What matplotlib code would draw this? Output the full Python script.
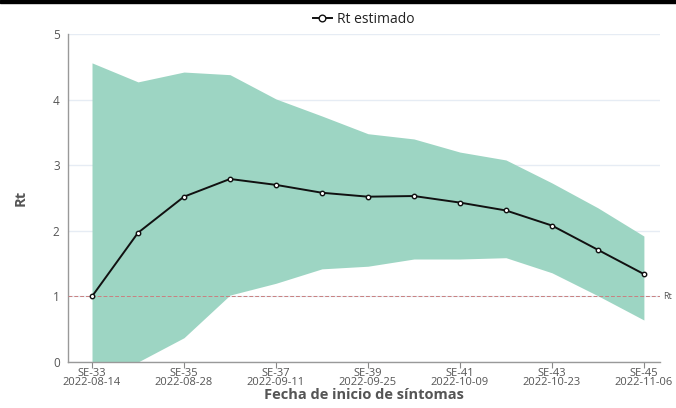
import matplotlib
matplotlib.use("Agg")
import matplotlib.pyplot as plt
from matplotlib.patches import Rectangle

weeks = [33, 34, 35, 36, 37, 38, 39, 40, 41, 42, 43, 44, 45]
rt = [1.00, 1.97, 2.52, 2.79, 2.70, 2.58, 2.52, 2.53, 2.43, 2.31, 2.08, 1.71, 1.34]
upper = [4.56, 4.27, 4.42, 4.38, 4.01, 3.75, 3.48, 3.40, 3.20, 3.08, 2.73, 2.35, 1.92]
lower = [0.00, 0.00, 0.37, 1.02, 1.20, 1.42, 1.46, 1.57, 1.57, 1.59, 1.36, 1.01, 0.64]
tick_weeks = [33, 35, 37, 39, 41, 43, 45]
tick_labels = ["SE-33\n2022-08-14", "SE-35\n2022-08-28", "SE-37\n2022-09-11",
               "SE-39\n2022-09-25", "SE-41\n2022-10-09", "SE-43\n2022-10-23",
               "SE-45\n2022-11-06"]

plt.rcParams['font.family'] = ['Open Sans', 'DejaVu Sans']

fig = plt.figure(figsize=(6.76, 4.08), dpi=100)
ax = fig.add_axes([68/676, 1-362/408, (660-68)/676, (362-34)/408])

ax.fill_between(weeks, lower, upper, color='#9dd5c3', linewidth=0, zorder=2)
ax.plot(weeks, rt, color='#111111', lw=1.4, marker='o', ms=3.2,
        mfc='white', mec='#111111', mew=1.0, zorder=4, label='Rt estimado')
ax.axhline(1, color='#c98080', lw=0.7, ls=(0, (4, 2)), zorder=3)
ax.text(1.005, 1, 'Rt', transform=ax.get_yaxis_transform(), va='center',
        ha='left', fontsize=6.5, color='#555555')

ax.set_xlim(32.478, 45.35)
ax.set_ylim(0, 5)
ax.set_yticks([0, 1, 2, 3, 4, 5])
ax.set_xticks(tick_weeks)
ax.set_xticklabels(tick_labels, fontsize=8, color='#555555', linespacing=0.85)
ax.tick_params(axis='y', labelsize=8.5, labelcolor='#555555', length=0, pad=6)
ax.tick_params(axis='x', length=4, color='#888888', pad=0)
ax.grid(axis='y', color='#e6ecf4', lw=1, zorder=0)
ax.set_axisbelow(True)
for s in ['top', 'right']:
    ax.spines[s].set_visible(False)
for s in ['left', 'bottom']:
    ax.spines[s].set_color('#999999')
    ax.spines[s].set_linewidth(1)

ax.set_xlabel('Fecha de inicio de síntomas', fontsize=10.5, fontweight='bold',
              color='#555555', labelpad=0)
ax.set_ylabel('Rt', fontsize=10.5, fontweight='bold', color='#555555', labelpad=18)

leg = ax.legend(loc='lower center', bbox_to_anchor=(0.5, 1.0), frameon=False,
                fontsize=10, handlelength=1.3, handletextpad=0.4, borderaxespad=0.1,
                markerscale=1.5)
for t in leg.get_texts():
    t.set_color('#222222')

fig.patches.append(Rectangle((0, 1-3/408), 1, 3/408, transform=fig.transFigure,
                             color='black', zorder=10))

fig.savefig('out.png', dpi=100)
